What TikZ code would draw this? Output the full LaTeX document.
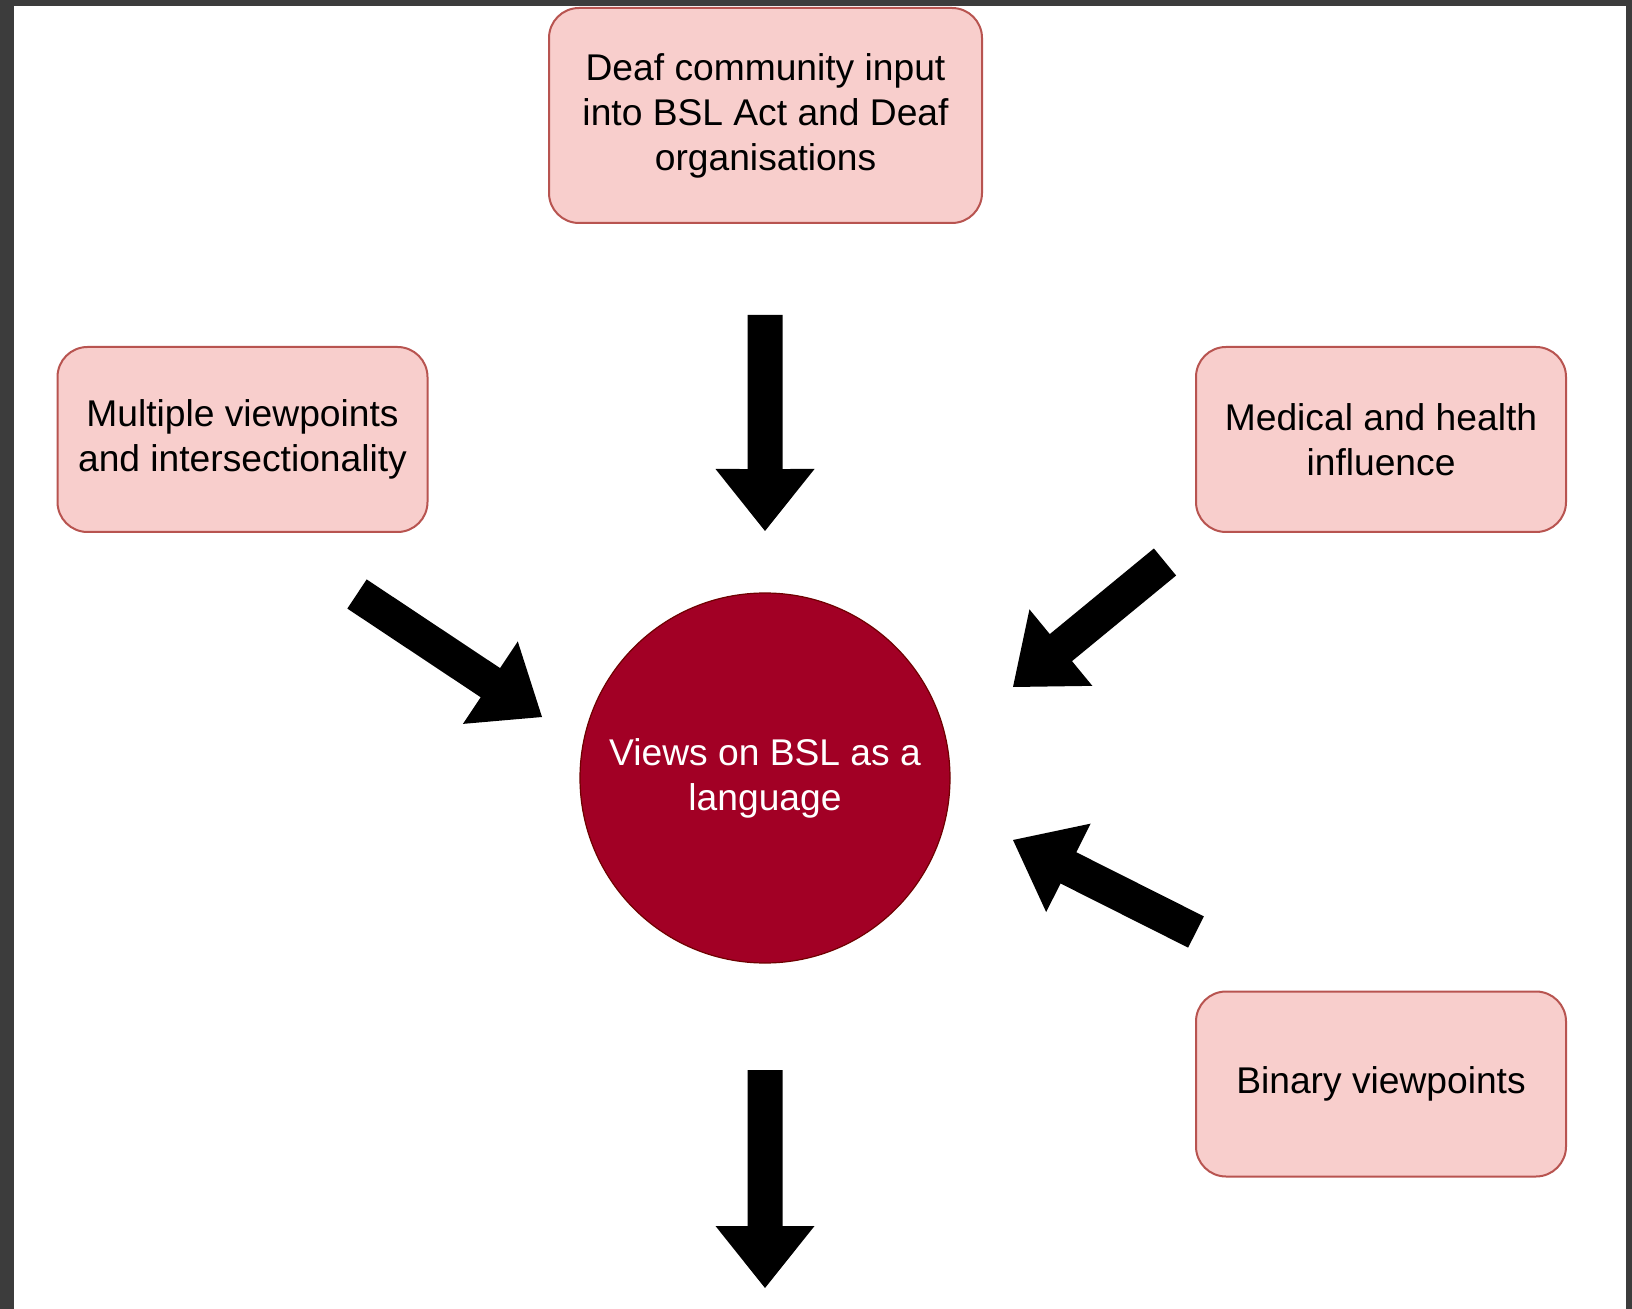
\documentclass[tikz,border=0pt]{standalone}
\usepackage{fontspec}
\setmainfont{Liberation Sans}
\usetikzlibrary{calc}

\definecolor{boxfill}{HTML}{F8CECC}
\definecolor{boxline}{HTML}{B85450}
\definecolor{hubfill}{HTML}{A20025}
\definecolor{hubline}{HTML}{6F0000}
\definecolor{framegray}{HTML}{3C3C3C}

\tikzset{
    factor/.style={draw=boxline, fill=boxfill, line width=1pt, rounded corners=15pt,
        align=center, inner sep=0pt, minimum width=185pt, minimum height=92.5pt,
        font=\fontsize{18.6}{22.5}\selectfont},
    hub/.style={circle, draw=hubline, fill=hubfill, line width=0.6pt, text=white,
        align=center, inner sep=0pt, minimum size=185pt,
        font=\fontsize{18.6}{22.5}\selectfont},
    blockarrow/.style={fill=black, to path={
        ($(\tikztostart)!8.75pt!90:(\tikztotarget)$)
        -- ($(\tikztotarget)!32.21pt!-15.76:(\tikztostart)$)
        -- ($(\tikztotarget)!39.67pt!-38.6:(\tikztostart)$)
        -- (\tikztotarget)
        -- ($(\tikztotarget)!39.67pt!38.6:(\tikztostart)$)
        -- ($(\tikztotarget)!32.21pt!15.76:(\tikztostart)$)
        -- ($(\tikztostart)!8.75pt!-90:(\tikztotarget)$)
        -- cycle}}
}

\begin{document}
\begin{tikzpicture}[x=0.5pt, y=-0.5pt]
    % Frame round the page
    \useasboundingbox (0,0) rectangle (1632,1309);
    \fill[framegray] (0,0) rectangle (1632,1309);
    \fill[white] (14,6) rectangle (1626,1309);

    % Factors
    \node[factor, minimum width=216.5pt, minimum height=107.5pt] (deaf) at (765.5,115.5)
        {Deaf community input\\into BSL Act and Deaf\\organisations};
    \node[factor] (multi) at (242.5,439.5) {Multiple viewpoints\\and intersectionality};
    \node[factor] (medical) at (1381,439.5) {Medical and health\\influence};
    \node[factor] (binary) at (1381,1084) {Binary viewpoints};

    % Centre
    \node[hub] (views) at (765,778) {Views on BSL as a\\language};

    % Arrow ends
    \coordinate (deafs) at (765,315);
    \coordinate (deafe) at (765,531);
    \coordinate (multis) at (357,594);
    \coordinate (multie) at (542,717);
    \coordinate (medicals) at (1165,562);
    \coordinate (medicale) at (1013,687);
    \coordinate (binarys) at (1196,932);
    \coordinate (binarye) at (1013,840);
    \coordinate (outs) at (765,1070);
    \coordinate (oute) at (765,1288);

    % Arrows
    \path[blockarrow] (deafs) to (deafe);
    \path[blockarrow] (multis) to (multie);
    \path[blockarrow] (medicals) to (medicale);
    \path[blockarrow] (binarys) to (binarye);
    \path[blockarrow] (outs) to (oute);
\end{tikzpicture}
\end{document}
